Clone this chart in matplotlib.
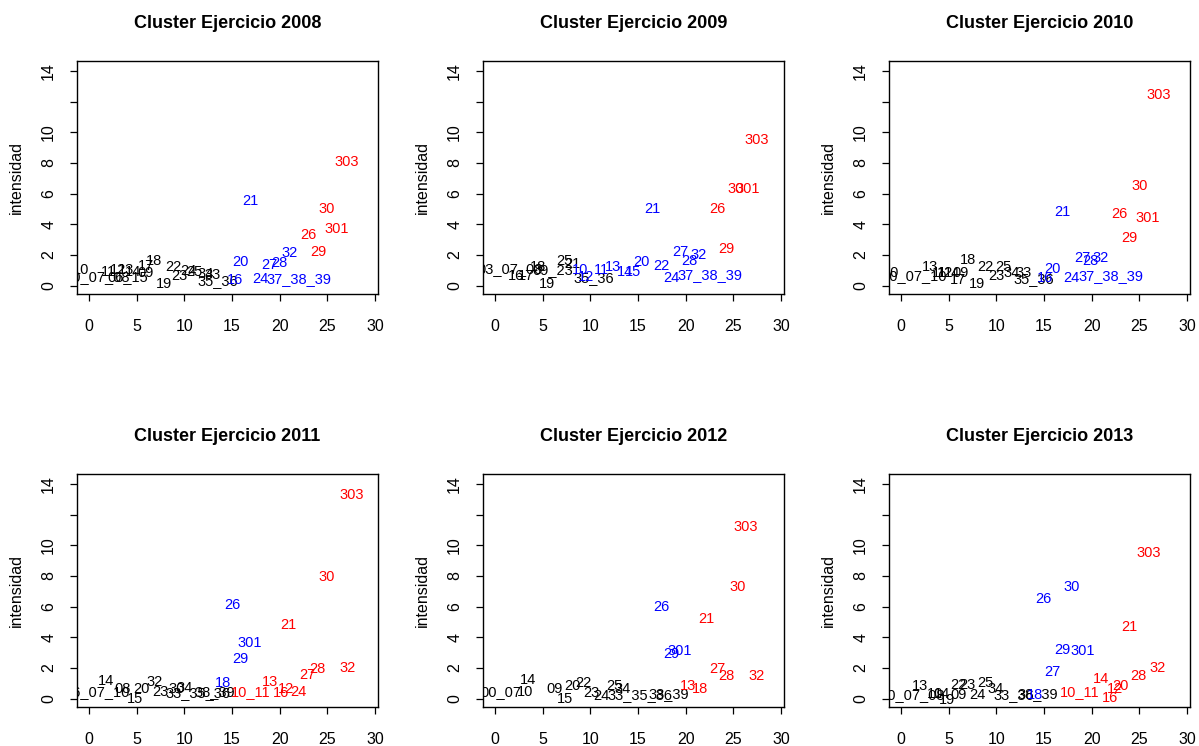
import matplotlib
matplotlib.use("Agg")
import matplotlib.pyplot as plt

# Cluster label positions per year: 1 = black, 2 = red, 3 = blue
lab_2008 = ["10", "00_07_08", "11", "12", "13", "14", "06_15", "09", "17", "18", "19", "22", "23",
            "24", "25", "34", "33", "35_36", "16", "20", "21", "24", "27", "28", "32", "37_38_39",
            "26", "29", "30", "301", "303"]
x_2008 = [-0.8, 0.8, 2.0, 3.0, 3.9, 4.6, 4.1, 5.9, 6.0, 6.8, 7.9, 8.8, 9.5,
          10.4, 11.0, 12.2, 13.0, 13.5, 15.3, 15.9, 16.9, 18.0, 18.9, 20.0, 21.0, 22.0,
          23.0, 24.0, 24.9, 26.0, 27.0]
y_2008 = [1.0, 0.55, 0.9, 1.0, 1.0, 0.9, 0.55, 0.8, 1.25, 1.6, 0.13, 1.2, 0.65,
          0.95, 0.9, 0.75, 0.7, 0.3, 0.35, 1.55, 5.5, 0.45, 1.35, 1.5, 2.1, 0.45,
          3.3, 2.2, 5.0, 3.7, 8.05]
grp_2008 = [1, 1, 1, 1, 1, 1, 1, 1, 1, 1, 1, 1, 1,
            1, 1, 1, 1, 1, 3, 3, 3, 3, 3, 3, 3, 3,
            2, 2, 2, 2, 2]

lab_2009 = ["03_07_08", "16", "17", "18", "09_23", "19", "25", "21", "35_36", "10", "12", "11",
            "13", "14", "15", "20", "21", "22", "24", "27", "28", "32", "37_38_39",
            "26", "29", "30", "301", "303"]
x_2009 = [1.6, 2.2, 3.3, 4.5, 6.1, 5.4, 7.3, 8.1, 10.4, 8.9, 9.5, 11.2,
          12.4, 13.6, 14.5, 15.4, 16.5, 17.4, 18.5, 19.4, 20.4, 21.3, 22.5,
          23.3, 24.3, 25.2, 26.5, 27.4]
y_2009 = [1.1, 0.65, 0.65, 1.2, 1.0, 0.13, 1.6, 1.4, 0.5, 1.0, 0.55, 1.0,
          1.2, 0.9, 0.9, 1.55, 5.0, 1.3, 0.5, 2.2, 1.6, 2.0, 0.7,
          5.0, 2.4, 6.3, 6.3, 9.5]
grp_2009 = [1, 1, 1, 1, 1, 1, 1, 1, 1, 3, 3, 3,
            3, 3, 3, 3, 3, 3, 3, 3, 3, 3, 3,
            2, 2, 2, 2, 2]

lab_2010 = ["10", "00_07_10", "13", "11", "12", "14", "09", "17", "18", "19", "22", "23", "25",
            "34", "33", "35_36", "16", "20", "21", "24", "27", "28", "32", "37_38_39",
            "26", "29", "30", "301", "303"]
x_2010 = [-1.0, 1.4, 3.0, 4.0, 4.6, 5.3, 6.2, 6.0, 7.0, 8.0, 8.8, 10.0, 10.7,
          11.6, 12.9, 13.9, 15.1, 15.9, 16.9, 17.9, 19.0, 19.9, 20.9, 22.0,
          22.9, 23.9, 25.0, 25.9, 27.0]
y_2010 = [0.8, 0.65, 1.2, 0.8, 0.85, 0.8, 0.8, 0.35, 1.65, 0.13, 1.2, 0.65, 1.2,
          0.8, 0.85, 0.45, 0.5, 1.1, 4.8, 0.5, 1.8, 1.6, 1.8, 0.6,
          4.7, 3.1, 6.5, 4.4, 12.4]
grp_2010 = [1, 1, 1, 1, 1, 1, 1, 1, 1, 1, 1, 1, 1,
            1, 1, 1, 3, 3, 3, 3, 3, 3, 3, 3,
            2, 2, 2, 2, 2]

lab_2011 = ["06_07_10", "14", "08", "15", "20", "32", "23", "30", "34", "33_35_36", "38_39",
            "18", "29", "301", "26",
            "10_11", "16", "12", "13", "24", "27", "28", "21", "32", "30", "303"]
x_2011 = [0.8, 1.8, 3.5, 4.8, 5.5, 6.9, 7.5, 9.2, 10.0, 11.4, 13.2,
          14.0, 15.9, 16.9, 15.0,
          17.0, 20.1, 20.7, 19.0, 21.9, 22.9, 23.9, 20.9, 27.1, 24.9, 27.5]
y_2011 = [0.45, 1.15, 0.6, 0.0, 0.65, 1.1, 0.45, 0.65, 0.7, 0.35, 0.45,
          1.0, 2.6, 3.6, 6.1,
          0.45, 0.35, 0.65, 1.05, 0.4, 1.55, 1.9, 4.8, 2.0, 7.9, 13.3]
grp_2011 = [1, 1, 1, 1, 1, 1, 1, 1, 1, 1, 1,
            3, 3, 3, 3,
            2, 2, 2, 2, 2, 2, 2, 2, 2, 2, 2]

lab_2012 = ["00_07", "10", "14", "09", "15", "20", "22", "23", "24", "25", "34", "33_35_36", "38_39",
            "29", "301", "26",
            "13", "18", "27", "28", "21", "32", "30", "303"]
x_2012 = [0.6, 3.2, 3.5, 6.2, 7.3, 8.1, 9.3, 10.1, 11.2, 12.5, 13.4, 15.2, 18.2,
          18.5, 19.4, 17.4,
          20.2, 21.5, 23.3, 24.3, 22.2, 27.4, 25.4, 26.3]
y_2012 = [0.45, 0.45, 1.2, 0.6, 0.0, 0.8, 1.0, 0.35, 0.15, 0.8, 0.6, 0.25, 0.3,
          2.9, 3.1, 6.0,
          0.8, 0.6, 1.9, 1.5, 5.2, 1.45, 7.3, 11.2]
grp_2012 = [1, 1, 1, 1, 1, 1, 1, 1, 1, 1, 1, 1, 1,
            3, 3, 3,
            2, 2, 2, 2, 2, 2, 2, 2]

lab_2013 = ["00_07_08", "13", "10", "14", "19", "09", "22", "23", "24", "25", "34", "33_36", "38_39",
            "18", "27", "29", "301", "26", "30",
            "10_11", "16", "12", "14", "20", "28", "21", "32", "303"]
x_2013 = [1.2, 2.0, 3.6, 4.3, 4.8, 6.0, 6.0, 7.0, 8.0, 8.8, 9.9, 11.8, 14.3,
          14.0, 15.9, 16.9, 19.0, 14.9, 17.9,
          18.7, 21.9, 22.4, 21.0, 23.0, 24.9, 23.9, 26.9, 26.0]
y_2013 = [0.25, 0.85, 0.3, 0.3, -0.1, 0.25, 0.9, 0.9, 0.25, 1.0, 0.6, 0.25, 0.3,
          0.25, 1.75, 3.2, 3.1, 6.5, 7.25,
          0.45, 0.05, 0.6, 1.25, 0.85, 1.45, 4.7, 2.0, 9.5]
grp_2013 = [1, 1, 1, 1, 1, 1, 1, 1, 1, 1, 1, 1, 1,
            3, 3, 3, 3, 3, 3,
            2, 2, 2, 2, 2, 2, 2, 2, 2]

years = [2008, 2009, 2010, 2011, 2012, 2013]
x_ticks = [0, 5, 10, 15, 20, 25, 30]
y_ticks = [0, 2, 4, 6, 8, 10, 12, 14]
y_tick_labels = ["0", "2", "4", "6", "8", "10", "", "14"]

colors = {1: "black", 2: "#ff0000", 3: "#0000ff"}
panels = [
    (lab_2008, x_2008, y_2008, grp_2008),
    (lab_2009, x_2009, y_2009, grp_2009),
    (lab_2010, x_2010, y_2010, grp_2010),
    (lab_2011, x_2011, y_2011, grp_2011),
    (lab_2012, x_2012, y_2012, grp_2012),
    (lab_2013, x_2013, y_2013, grp_2013),
]

plt.rcParams["font.family"] = ["Liberation Sans", "DejaVu Sans"]

fig = plt.figure(figsize=(11.99, 7.46), dpi=100)
W, H = 1199, 746
lefts = [77, 483, 889]
bottoms = [294, 707]
ax_w, ax_h = 301, 233

for i, (year, (labs, xs, ys, grps)) in enumerate(zip(years, panels)):
    row, col = divmod(i, 3)
    ax = fig.add_axes([lefts[col] / W, 1 - bottoms[row] / H, ax_w / W, ax_h / H])
    for lab, x, y, g in zip(labs, xs, ys, grps):
        ax.text(x, y, lab, color=colors[g], fontsize=10.5, ha="center", va="center",
                clip_on=True)
    ax.set_xlim(-1.26, 30.3)
    ax.set_ylim(-0.55, 14.65)
    ax.set_xticks(x_ticks)
    ax.set_yticks(y_ticks)
    ax.set_yticklabels(y_tick_labels, rotation=90, va="center")
    ax.tick_params(axis="x", length=5, width=0.9, pad=13, labelsize=11.5)
    ax.tick_params(axis="y", length=5, width=0.9, pad=10, labelsize=11.5)
    for sp in ax.spines.values():
        sp.set_linewidth(1.0)
    ax.set_ylabel("intensidad", fontsize=11.5)
    ax.yaxis.set_label_coords(-0.176, 0.5)
    ax.set_title(f"Cluster Ejercicio {year}", fontsize=13, fontweight="bold",
                 family=["Liberation Sans Narrow", "Liberation Sans"], pad=24)

fig.savefig("out.png", dpi=100)
